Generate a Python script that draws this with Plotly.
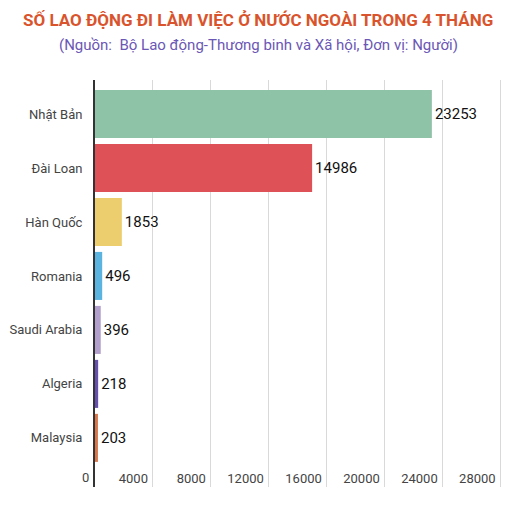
import plotly.graph_objects as go

categories = ["Nhật Bản", "Đài Loan", "Hàn Quốc", "Romania", "Saudi Arabia", "Algeria", "Malaysia"]
values = [23253, 14986, 1853, 496, 396, 218, 203]
colors = ["#8fc3a8", "#dd5157", "#ecce6e", "#5bb3df", "#b39fcb", "#6650ad", "#d8764b"]
tick_vals = [0, 4000, 8000, 12000, 16000, 20000, 24000, 28000]
title = "SỐ LAO ĐỘNG ĐI LÀM VIỆC Ở NƯỚC NGOÀI TRONG 4 THÁNG"
subtitle = "(Nguồn:  Bộ Lao động-Thương binh và Xã hội, Đơn vị: Người)"

# page has an 8px body margin; figure is sized to fit the window
OFF = 8
W, H = 516 - OFF, 505 - OFF
ML, MR, MT, MB = 95 - OFF, 11, 80 - OFF, 18
pw, ph = W - ML - MR, H - MT - MB

fig = go.Figure(go.Bar(
    x=values, y=categories, orientation="h",
    marker=dict(color=colors, line=dict(width=0)),
    text=[str(v) for v in values], textposition="outside",
    textfont=dict(family="Roboto", size=15, color="#111"),
    cliponaxis=False, width=0.89,
))

fig.update_layout(
    width=W, height=H,
    margin=dict(l=ML, r=MR, t=MT, b=MB, autoexpand=False),
    paper_bgcolor="white", plot_bgcolor="white",
    font=dict(family="Roboto", color="#444"),
    showlegend=False,
    xaxis=dict(range=[0, 28300], tickvals=tick_vals, ticktext=[str(t) for t in tick_vals],
               ticklabelposition="inside left", ticklabelshift=-5, ticklabelstandoff=-5,
               showgrid=True, gridcolor="#d9d9d9",
               gridwidth=1, zeroline=False, showline=False, ticks="", automargin=False,
               tickfont=dict(size=13, color="#444")),
    yaxis=dict(categoryorder="array", categoryarray=categories, range=[6.91, -0.63],
               showgrid=False, showline=True, linecolor="#333", linewidth=2, automargin=False,
               ticks="outside", ticklen=8, tickcolor="rgba(0,0,0,0)",
               tickfont=dict(size=13, color="#444")),
    annotations=[
        dict(text="<b>" + title + "</b>", x=(258 - 95) / pw, y=1 + (80 - 20) / ph,
             xref="paper", yref="paper", yanchor="middle", showarrow=False,
             font=dict(size=17, color="#d9542c", family="Roboto")),
        dict(text=subtitle, x=(258 - 95) / pw, y=1 + (80 - 45) / ph,
             xref="paper", yref="paper", yanchor="middle", showarrow=False,
             font=dict(size=15, color="#6b57b5", family="Roboto")),
        dict(text=str(tick_vals[0]), x=tick_vals[0], xref="x", y=1 - (477 - 80) / ph,
             yref="paper", xanchor="right", yanchor="middle", xshift=-4, showarrow=False,
             font=dict(size=13, color="#444", family="Roboto")),
    ],
)

fig.write_html("out.html")
